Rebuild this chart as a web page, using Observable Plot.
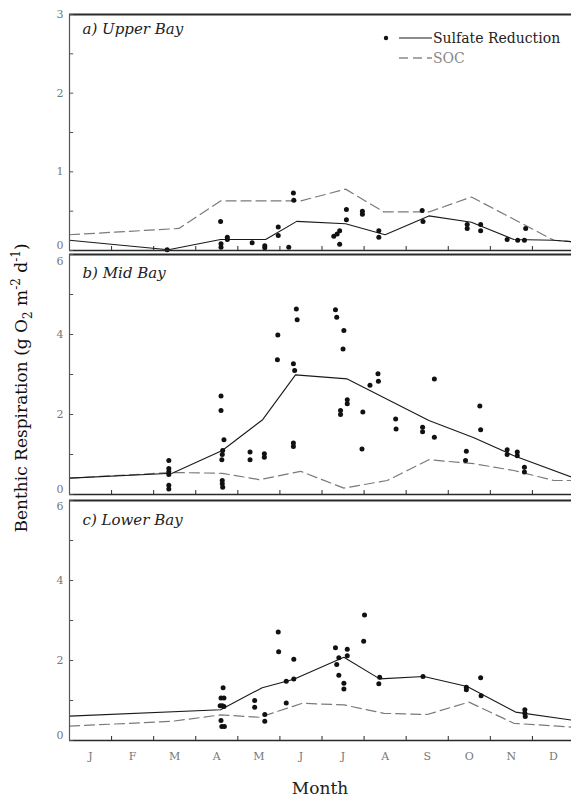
<!DOCTYPE html>
<html><head><meta charset="utf-8">
<script src="https://cdn.jsdelivr.net/npm/d3@7"></script>
<script src="https://cdn.jsdelivr.net/npm/@observablehq/plot@0.6"></script>
<style>
html,body{margin:0;padding:0;background:#fff;overflow:hidden;}
#fig{position:relative;width:571px;height:797px;overflow:hidden;font-family:"DejaVu Serif",serif;background:#fff;}
#fig svg.plot{position:absolute;left:0;max-width:none;overflow:visible;background:transparent;}
.ytitle{position:absolute;left:22px;top:388px;transform:translate(-50%,-50%) rotate(-90deg);white-space:nowrap;font-size:17px;color:#111;}
.ytitle sub,.ytitle sup{font-size:12px;}
.xtitle{position:absolute;left:0;width:640px;top:778px;text-align:center;font-size:17px;color:#222;}
.legend{position:absolute;left:380px;top:28px;font-size:14px;color:#222;}
.legend div{height:20px;display:flex;align-items:center;}
.legend svg{margin-right:1px;}
</style></head><body><div id="fig"></div>
<script>
// ---- Month tick labels ----
const months = ["J","F","M","A","M","J","J","A","S","O","N","D"];

// ---- a) Upper Bay (month as fractional month index, value g O2 m-2 d-1) ----
const upperSRMonth  = [0, 2.35, 3.59, 4.66, 5.4, 6.56, 7.5, 8.54, 9.55, 10.56, 11.51, 12];
const upperSRValue  = [0.13, 0.01, 0.14, 0.14, 0.37, 0.34, 0.2, 0.44, 0.36, 0.14, 0.13, 0.11];
const upperSOCMonth = [0, 2.6, 3.59, 5.49, 6.56, 7.47, 8.54, 9.55, 11.51, 12];
const upperSOCValue = [0.2, 0.28, 0.63, 0.63, 0.78, 0.49, 0.49, 0.68, 0.13, 0.11];
const upperPoints = [[2.32,0.01],[3.59,0.37],[3.6,0.085],[3.6,0.04],[3.75,0.17],[3.75,0.14],[4.34,0.1],[4.64,0.06],[4.64,0.035],[4.96,0.3],[4.96,0.19],[5.21,0.04],[5.32,0.73],[5.33,0.64],[6.28,0.18],[6.36,0.21],[6.42,0.25],[6.42,0.08],[6.58,0.52],[6.58,0.39],[6.96,0.5],[6.96,0.46],[7.35,0.25],[7.35,0.17],[8.38,0.51],[8.4,0.37],[9.45,0.33],[9.45,0.28],[9.77,0.33],[9.77,0.25],[10.4,0.14],[10.65,0.13],[10.81,0.13],[10.84,0.28]];

// ---- b) Mid Bay ----
const midSRMonth  = [0, 2.44, 3.63, 4.59, 5.37, 6.6, 8.54, 9.61, 10.56, 12];
const midSRValue  = [0.41, 0.53, 1.1, 1.87, 2.99, 2.89, 1.85, 1.42, 0.97, 0.41];
const midSOCMonth = [0, 2.44, 3.63, 4.52, 5.49, 6.52, 7.55, 8.54, 9.61, 10.56, 11.51, 12];
const midSOCValue = [0.41, 0.55, 0.53, 0.37, 0.58, 0.16, 0.35, 0.87, 0.77, 0.6, 0.35, 0.35];
const midPoints = [[2.36,0.85],[2.36,0.65],[2.36,0.57],[2.36,0.5],[2.36,0.23],[2.36,0.14],[3.6,2.46],[3.6,2.1],[3.67,1.37],[3.64,1.1],[3.63,1.0],[3.62,0.87],[3.63,0.35],[3.63,0.27],[3.64,0.18],[4.29,1.06],[4.29,0.87],[4.63,1.02],[4.63,0.93],[4.95,3.99],[4.94,3.37],[5.32,3.27],[5.35,3.1],[5.32,1.29],[5.32,1.2],[5.39,4.64],[5.41,4.37],[6.32,4.62],[6.35,4.43],[6.52,4.1],[6.5,3.64],[6.6,2.37],[6.6,2.27],[6.44,2.1],[6.44,2.0],[6.97,2.06],[6.95,1.14],[7.14,2.73],[7.33,3.02],[7.34,2.83],[7.75,1.89],[7.76,1.64],[8.39,1.68],[8.39,1.57],[8.67,2.89],[8.67,1.43],[9.43,1.08],[9.41,0.85],[9.75,2.21],[9.77,1.62],[10.4,1.12],[10.4,1.0],[10.64,1.06],[10.64,0.97],[10.81,0.68],[10.81,0.56]];

// ---- c) Lower Bay ----
const lowerSRMonth  = [0, 3.59, 4.58, 5.33, 6.52, 7.37, 8.42, 9.45, 10.6, 12];
const lowerSRValue  = [0.61, 0.77, 1.32, 1.53, 2.08, 1.54, 1.6, 1.35, 0.71, 0.5];
const lowerSOCMonth = [0, 2.44, 3.59, 4.52, 5.53, 6.52, 7.47, 8.5, 9.49, 10.56, 12];
const lowerSOCValue = [0.36, 0.48, 0.64, 0.58, 0.93, 0.89, 0.68, 0.65, 0.96, 0.43, 0.33];
const lowerPoints = [[3.65,1.32],[3.6,1.06],[3.67,1.06],[3.58,0.87],[3.63,0.87],[3.67,0.85],[3.6,0.5],[3.62,0.35],[3.68,0.35],[4.4,1.0],[4.4,0.83],[4.64,0.65],[4.64,0.48],[4.96,2.71],[4.97,2.22],[5.15,0.94],[5.15,1.48],[5.33,2.03],[5.33,1.54],[6.32,2.32],[6.4,2.07],[6.35,1.9],[6.4,1.63],[6.52,1.43],[6.52,1.29],[6.6,2.28],[6.6,2.12],[7.01,3.14],[6.99,2.48],[7.37,1.58],[7.35,1.42],[8.4,1.6],[9.43,1.33],[9.43,1.27],[9.77,1.57],[9.78,1.12],[10.82,0.77],[10.82,0.68],[10.83,0.6]];

const fig = document.getElementById("fig");
const toRows = (xs, ys) => xs.map((x, i) => ({month: x, value: ys[i]}));
const FRAME = "#2a2a2a";

function panel({top, height, mTop, mBottom, yMax, pxPerUnit, srM, srV, socM, socV, pts, label, labelDy, majors, minors, topLabelDy, showMonths}) {
  const yTick = 4 / pxPerUnit;
  // label nudges: bottom label sits a little above its tick, top label a little below
  const labelShift = d => d === 0 ? -5 : (d === yMax ? topLabelDy : 0);
  const marks = [
    Plot.line(toRows(socM, socV), {x: "month", y: "value", stroke: "#7a7a7a", strokeWidth: 1.2, strokeDasharray: "10,5"}),
    Plot.line(toRows(srM, srV), {x: "month", y: "value", stroke: "#1a1a1a", strokeWidth: 1.1}),
    Plot.dot(pts, {x: d => d[0], y: d => d[1], r: 2.5, fill: "#111", stroke: "none"}),
    Plot.ruleY([0], {stroke: FRAME, strokeWidth: 1.6}),
    Plot.ruleY([yMax], {stroke: FRAME, strokeWidth: 1.8}),
    Plot.ruleX([0], {stroke: "#555", strokeWidth: 1.2}),
    Plot.ruleX(d3.range(1, 12), {y1: 0, y2: yTick, stroke: FRAME, strokeWidth: 1}),
    Plot.ruleY(majors.concat(minors), {x1: 0, x2: 0.1, stroke: "#555", strokeWidth: 1}),
    ...majors.map(m => Plot.text([m], {x: 0, y: d => d, text: d => String(d), textAnchor: "end", dx: -6, dy: labelShift(m), fill: "#777", fontSize: 11, fontFamily: "DejaVu Serif"})),
    Plot.text([label], {frameAnchor: "top-left", dx: 13, dy: labelDy, text: d => d, fontStyle: "italic", fontSize: 15, fill: "#222", fontFamily: "DejaVu Serif"})
  ];
  if (showMonths) {
    marks.push(Plot.text(months, {x: (d, i) => i + 0.5, y: 0, dy: 16, text: d => d, fill: "#777", fontSize: 11, fontFamily: "DejaVu Serif"}));
  }
  const svg = Plot.plot({
    width: 571, height,
    marginLeft: 69, marginRight: 0, marginTop: mTop, marginBottom: mBottom,
    x: {domain: [0, 12], range: [69, 574], axis: null},
    y: {domain: [0, yMax], range: [height - mBottom, mTop], axis: null},
    style: {background: "transparent", overflow: "visible"},
    marks
  });
  svg.classList.add("plot");
  svg.style.top = top + "px";
  fig.appendChild(svg);
}

panel({top: 0, height: 252, mTop: 14, mBottom: 2, yMax: 3, pxPerUnit: 78.7,
  srM: upperSRMonth, srV: upperSRValue, socM: upperSOCMonth, socV: upperSOCValue, pts: upperPoints,
  label: "a) Upper Bay", labelDy: 9, majors: [0, 1, 2, 3], minors: [0.5, 1.5, 2.5], topLabelDy: 0, showMonths: false});
panel({top: 252, height: 246, mTop: 2, mBottom: 4, yMax: 6, pxPerUnit: 40,
  srM: midSRMonth, srV: midSRValue, socM: midSOCMonth, socV: midSOCValue, pts: midPoints,
  label: "b) Mid Bay", labelDy: 13, majors: [0, 2, 4, 6], minors: [1, 3, 5], topLabelDy: 7, showMonths: false});
panel({top: 498, height: 299, mTop: 2, mBottom: 57, yMax: 6, pxPerUnit: 40,
  srM: lowerSRMonth, srV: lowerSRValue, socM: lowerSOCMonth, socV: lowerSOCValue, pts: lowerPoints,
  label: "c) Lower Bay", labelDy: 14, majors: [0, 2, 4, 6], minors: [1, 3, 5], topLabelDy: 6, showMonths: true});

// Axis titles and legend
const yt = document.createElement("div");
yt.className = "ytitle";
yt.innerHTML = "Benthic Respiration (g O<sub>2</sub> m<sup>-2</sup> d<sup>-1</sup>)";
fig.appendChild(yt);

const xt = document.createElement("div");
xt.className = "xtitle";
xt.textContent = "Month";
fig.appendChild(xt);

const lg = document.createElement("div");
lg.className = "legend";
lg.innerHTML =
  '<div><svg width="52" height="10"><circle cx="6" cy="5" r="2.2" fill="#111"/><line x1="19" x2="52" y1="5" y2="5" stroke="#1a1a1a" stroke-width="1.2"/></svg><span>Sulfate Reduction</span></div>' +
  '<div><svg width="52" height="10"><line x1="19" x2="52" y1="5" y2="5" stroke="#8a8a8a" stroke-width="1.3" stroke-dasharray="9,5"/></svg><span style="color:#888">SOC</span></div>';
fig.appendChild(lg);
</script></body></html>
